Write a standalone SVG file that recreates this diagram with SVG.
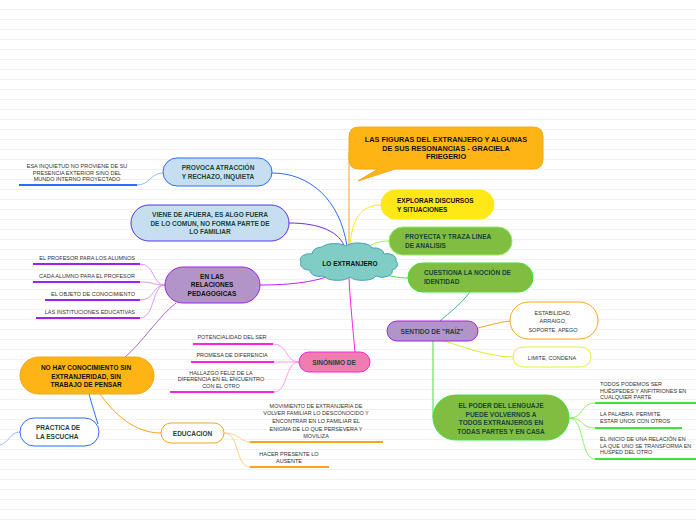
<svg xmlns="http://www.w3.org/2000/svg" width="696" height="520" viewBox="0 0 696 520">
<defs>
<pattern id="lines" width="696" height="10" patternUnits="userSpaceOnUse">
<rect width="696" height="10" fill="#ffffff"/>
<line x1="0" y1="9.5" x2="696" y2="9.5" stroke="#f1f1f1" stroke-width="1"/>
</pattern>
</defs>
<style>
.nt{font-family:"Liberation Sans",Arial,sans-serif;font-weight:bold;font-size:6.5px;fill:#18443a}
.bt{font-family:"Liberation Sans",Arial,sans-serif;font-weight:bold;font-size:6.5px;fill:#111}
.tt{font-family:"Liberation Sans",Arial,sans-serif;font-weight:bold;font-size:7.3px;fill:#111}
.lt{font-family:"Liberation Sans",Arial,sans-serif;font-size:5.5px;fill:#333}
.c{fill:none;stroke-width:1}
.u{fill:none;stroke-width:2}
</style>
<rect width="696" height="520" fill="url(#lines)"/>

<g id="connectors">
<path class="c" d="M349,246 L349,152" stroke="#f7a51c" stroke-width="1.5"/>
<path class="c" d="M350,246 C352,220 360,205 381,205" stroke="#ffe815"/>
<path class="c" d="M365,248 C375,243 380,241 389,241" stroke="#9ef05a"/>
<path class="c" d="M378,273 C390,276 398,278 408,278" stroke="#3ee23a" stroke-width="1.2"/>
<path class="c" d="M347,246 C340,200 310,173 272,173" stroke="#2b6ef5" stroke-width="1.2"/>
<path class="c" d="M345,248 C340,232 320,223 289,223" stroke="#6a2ce8" stroke-width="1.2"/>
<path class="c" d="M338,272 C320,282 290,285 260,285" stroke="#c020f0" stroke-width="1.2"/>
<path class="c" d="M349,277 C350,300 353,330 355,352" stroke="#ff20e8" stroke-width="1.5"/>
<path class="c" d="M470,292 C460,305 450,312 440,321" stroke="#3cb88a" stroke-width="1.2"/>
<path class="c" d="M478,328 C490,325 500,322 510,321" stroke="#f7a51c"/>
<path class="c" d="M445,341 C470,350 495,357 513,357" stroke="#d8f020"/>
<path class="c" d="M433,341 L433,418 L435,418" stroke="#3ee23a" stroke-width="1.5"/>
<path class="c" d="M569,418 C585,418 580,403 595,403" stroke="#8ef06a"/>
<path class="c" d="M569,418 C585,418 580,428 595,428" stroke="#8ef06a"/>
<path class="c" d="M569,418 C585,418 580,459 595,459" stroke="#8ef06a"/>
<path class="c" d="M137,185 C150,185 150,173 163,173" stroke="#9abaf5"/>
<path class="c" d="M140,264 C155,264 152,285 165,285" stroke="#d89af5"/>
<path class="c" d="M140,282 C155,282 152,285 165,285" stroke="#d89af5"/>
<path class="c" d="M140,300 C155,300 152,285 165,285" stroke="#d89af5"/>
<path class="c" d="M140,318 C155,318 152,285 165,285" stroke="#d89af5"/>
<path class="c" d="M176,303 C160,315 140,345 125,357" stroke="#a46ac8" stroke-width="1.2"/>
<path class="c" d="M273,344 C288,344 285,362 299,362" stroke="#ff9ae8"/>
<path class="c" d="M274,362 L299,362" stroke="#ff9ae8"/>
<path class="c" d="M274,392 C288,392 285,362 299,362" stroke="#ff9ae8"/>
<path class="c" d="M89,394 C92,405 95,415 98,424" stroke="#2b6ef5" stroke-width="1.5"/>
<path class="c" d="M100,394 C115,415 135,433 161,433" stroke="#f7a51c" stroke-width="1.2"/>
<path class="c" d="M20,432 C10,432 10,442 0,445" stroke="#9abaf5"/>
<path class="c" d="M224,433 C240,433 240,442 250,442" stroke="#ffd080"/>
<path class="c" d="M224,433 C240,433 235,467 250,467" stroke="#ffd080"/>
</g>

<g id="title">
<path d="M359,127 H533 Q543,127 543,137 V159 Q543,169 533,169 H395 L358,181 L378,169 H359 Q349,169 349,159 V137 Q349,127 359,127 Z" fill="#fdb515" stroke="#f7a51c"/>
<text class="tt" text-anchor="middle" x="446" y="142">LAS FIGURAS DEL EXTRANJERO Y ALGUNAS</text>
<text class="tt" text-anchor="middle" x="446" y="151">DE SUS RESONANCIAS - GRACIELA</text>
<text class="tt" text-anchor="middle" x="446" y="159">FRIEGERIO</text>
</g>

<g id="center">
<path d="M312,254 A10,7 0 0 1 322,247 A14,6 0 0 1 346,246 A14,6 0 0 1 372,248 A10,6 0 0 1 384,254 A9,6 0 0 1 396,261 A9,6 0 0 1 392,270 A10,6 0 0 1 376,276 A14,6 0 0 1 350,277 A14,6 0 0 1 324,276 A10,6 0 0 1 310,270 A9,6 0 0 1 301,262 A9,6 0 0 1 312,254 Z" fill="#7fcdc4" stroke="#4aa3b5"/>
<text class="bt" text-anchor="middle" x="350" y="266">LO EXTRANJERO</text>
</g>

<g id="explorar">
<rect x="381" y="190" width="113" height="29" rx="14.5" fill="#ffe815" stroke="#ffe815"/>
<text class="bt" x="397" y="203">EXPLORAR DISCURSOS</text>
<text class="bt" x="397" y="212">Y SITUACIONES</text>
</g>

<g id="proyecta">
<rect x="389" y="227" width="123" height="28" rx="14" fill="#80bd41" stroke="#8ef05a"/>
<text class="nt" x="405" y="239">PROYECTA Y TRAZA LINEA</text>
<text class="nt" x="405" y="248">DE ANALISIS</text>
</g>

<g id="cuestiona">
<rect x="408" y="263" width="125" height="29" rx="14.5" fill="#80bd41" stroke="#3ee23a"/>
<text class="nt" x="424" y="275">CUESTIONA LA NOCIÓN DE</text>
<text class="nt" x="424" y="284">IDENTIDAD</text>
</g>

<g id="raiz">
<rect x="387" y="321" width="91" height="20" rx="10" fill="#b294c8" stroke="#a020f0"/>
<text class="nt" text-anchor="middle" x="432" y="333.5">SENTIDO DE "RAÍZ"</text>
</g>

<g id="estabilidad">
<rect x="510" y="302" width="88" height="37" rx="18.5" fill="#ffffff" stroke="#f7a51c"/>
<text class="lt" text-anchor="middle" x="553" y="315">ESTABILIDAD,</text>
<text class="lt" text-anchor="middle" x="553" y="323">ARRAIGO,</text>
<text class="lt" text-anchor="middle" x="553" y="332">SOPORTE, APEGO</text>
</g>

<g id="limite">
<rect x="513" y="347" width="78" height="20" rx="10" fill="#ffffff" stroke="#e0f040"/>
<text class="lt" text-anchor="middle" x="552" y="359.5">LIMITE, CONDENA</text>
</g>

<g id="poder">
<rect x="433" y="395" width="136" height="45" rx="22.5" fill="#80bd41" stroke="#3ee23a"/>
<text class="nt" text-anchor="middle" x="501" y="408">EL PODER DEL LENGUAJE</text>
<text class="nt" text-anchor="middle" x="501" y="416.5">PUEDE VOLVERNOS A</text>
<text class="nt" text-anchor="middle" x="501" y="425">TODOS EXTRANJEROS EN</text>
<text class="nt" text-anchor="middle" x="501" y="434">TODAS PARTES Y EN CASA</text>
</g>

<g id="poder-leaves">
<text class="lt" x="600" y="386">TODOS PODEMOS SER</text>
<text class="lt" x="600" y="392.5">HUÉSPEDES Y ANFITRIONES EN</text>
<text class="lt" x="600" y="399">CUALQUIER PARTE</text>
<path class="u" d="M595,403 H696" stroke="#3ee23a"/>
<text class="lt" x="600" y="416">LA PALABRA: PERMITE</text>
<text class="lt" x="600" y="422.5">ESTAR UNOS CON OTROS</text>
<path class="u" d="M595,428 H682" stroke="#3ee23a"/>
<text class="lt" x="600" y="441">EL INICIO DE UNA RELACIÓN EN</text>
<text class="lt" x="600" y="447.5">LA QUE UNO SE TRANSFORMA EN</text>
<text class="lt" x="600" y="454">HUSPED DEL OTRO</text>
<path class="u" d="M595,459 H696" stroke="#3ee23a"/>
</g>

<g id="provoca">
<rect x="163" y="158" width="109" height="28" rx="14" fill="#c5dff1" stroke="#2b6ef5"/>
<text class="nt" text-anchor="middle" x="218" y="170">PROVOCA ATRACCIÓN</text>
<text class="nt" text-anchor="middle" x="218" y="179">Y RECHAZO, INQUIETA</text>
</g>

<g id="inquietud">
<text class="lt" text-anchor="middle" x="77" y="168">ESA INQUIETUD NO PROVIENE DE SU</text>
<text class="lt" text-anchor="middle" x="77" y="174.5">PRESENCIA EXTERIOR SINO DEL</text>
<text class="lt" text-anchor="middle" x="77" y="181">MUNDO INTERNO PROYECTADO</text>
<path class="u" d="M19,185 H137" stroke="#2b6ef5"/>
</g>

<g id="viene">
<rect x="131" y="205" width="158" height="36" rx="18" fill="#c5dff1" stroke="#5533ee"/>
<text class="nt" text-anchor="middle" x="210" y="217">VIENE DE AFUERA, ES ALGO FUERA</text>
<text class="nt" text-anchor="middle" x="210" y="225.5">DE LO COMUN, NO FORMA PARTE DE</text>
<text class="nt" text-anchor="middle" x="210" y="234">LO FAMILIAR</text>
</g>

<g id="relaciones">
<rect x="165" y="267" width="95" height="36" rx="18" fill="#b294c8" stroke="#a020f0"/>
<text class="bt" text-anchor="middle" x="212" y="278.5">EN LAS</text>
<text class="bt" text-anchor="middle" x="212" y="287">RELACIONES</text>
<text class="bt" text-anchor="middle" x="212" y="295.5">PEDAGOGICAS</text>
</g>

<g id="relaciones-leaves">
<text class="lt" text-anchor="end" x="135" y="260">EL PROFESOR PARA LOS ALUMNOS</text>
<path class="u" d="M33,264 H140" stroke="#a020f0"/>
<text class="lt" text-anchor="end" x="135" y="278">CADA ALUMNO PARA EL PROFESOR</text>
<path class="u" d="M33,282 H140" stroke="#a020f0"/>
<text class="lt" text-anchor="end" x="135" y="296">EL OBJETO DE CONOCIMIENTO</text>
<path class="u" d="M45,300 H140" stroke="#a020f0"/>
<text class="lt" text-anchor="end" x="135" y="314">LAS INSTITUCIONES EDUCATIVAS</text>
<path class="u" d="M36,318 H140" stroke="#a020f0"/>
</g>

<g id="sinonimo">
<rect x="299" y="352" width="71" height="20" rx="10" fill="#f07cb0" stroke="#ff20e0"/>
<text class="nt" text-anchor="middle" x="334" y="364.5">SINÓNIMO DE</text>
</g>

<g id="sinonimo-leaves">
<text class="lt" text-anchor="middle" x="232" y="339">POTENCIALIDAD DEL SER</text>
<path class="u" d="M193,344 H273" stroke="#ff20e8"/>
<text class="lt" text-anchor="middle" x="232" y="357">PROMESA DE DIFERENCIA</text>
<path class="u" d="M191,362 H274" stroke="#ff20e8"/>
<text class="lt" text-anchor="middle" x="221" y="374.5">HALLAZGO FELIZ DE LA</text>
<text class="lt" text-anchor="middle" x="221" y="381">DIFERENCIA EN EL ENCUENTRO</text>
<text class="lt" text-anchor="middle" x="221" y="387.5">CON EL OTRO</text>
<path class="u" d="M170,392 H274" stroke="#ff20e8"/>
</g>

<g id="nohay">
<rect x="20" y="357" width="134" height="37" rx="18.5" fill="#fdb515" stroke="#f7a51c"/>
<text class="bt" text-anchor="middle" x="86" y="370">NO HAY CONOCIMIENTO SIN</text>
<text class="bt" text-anchor="middle" x="86" y="378.5">EXTRANJERIDAD, SIN</text>
<text class="bt" text-anchor="middle" x="86" y="387">TRABAJO DE PENSAR</text>
</g>

<g id="practica">
<rect x="20" y="418" width="79" height="28" rx="14" fill="#ffffff" stroke="#2b6ef5"/>
<text class="nt" x="36" y="430">PRACTICA DE</text>
<text class="nt" x="36" y="439">LA ESCUCHA</text>
</g>

<g id="educacion">
<rect x="161" y="423" width="63" height="20" rx="10" fill="#ffffff" stroke="#f7a51c"/>
<text class="nt" text-anchor="middle" x="192.5" y="435.5">EDUCACION</text>
</g>

<g id="educacion-leaves">
<text class="lt" text-anchor="middle" x="316" y="408">MOVIMIENTO DE EXTRANJERIA DE</text>
<text class="lt" text-anchor="middle" x="316" y="415">VOLVER FAMILIAR LO DESCONOCIDO Y</text>
<text class="lt" text-anchor="middle" x="316" y="423">ENCONTRAR EN LO FAMILIAR EL</text>
<text class="lt" text-anchor="middle" x="316" y="430.5">ENIGMA DE LO QUE PERSEVERA Y</text>
<text class="lt" text-anchor="middle" x="316" y="438">MOVILIZA</text>
<path class="u" d="M250,442 H383" stroke="#f7a51c"/>
<text class="lt" text-anchor="middle" x="289" y="456">HACER PRESENTE LO</text>
<text class="lt" text-anchor="middle" x="289" y="463">AUSENTE</text>
<path class="u" d="M250,467 H329" stroke="#f7a51c"/>
</g>
</svg>
